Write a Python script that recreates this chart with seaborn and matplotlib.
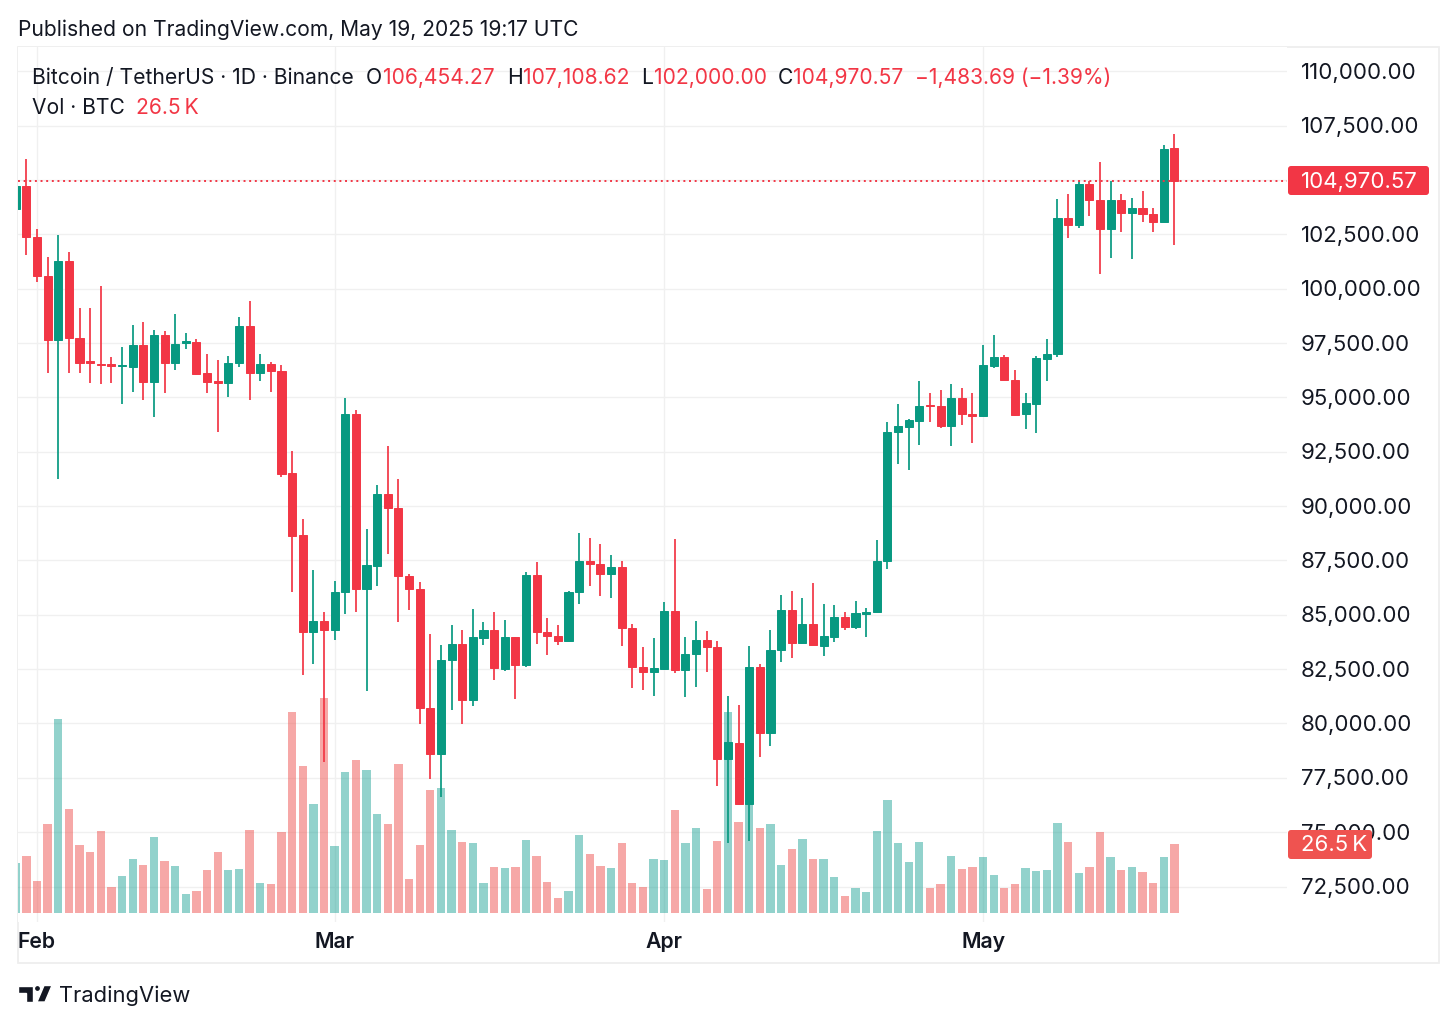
"""BTC/USDT daily candles with volume, TradingView style."""

import matplotlib
matplotlib.use("Agg")
import matplotlib.pyplot as plt
from matplotlib.patches import Circle, FancyBboxPatch, Polygon, Rectangle
from matplotlib.transforms import ScaledTranslation
import numpy as np
import pandas as pd
import seaborn as sns

W, H = 1456, 1026

GREEN = "#089981"
RED = "#F23645"
VOL_GREEN = "#26A69A"
VOL_RED = "#EF5350"
GRID = "#F0F0F0"
TEXT = "#131722"

# prices in thousands of USDT, Jan 30 .. May 19 2025
opens = [
    103.67, 104.72,
    102.38, 100.58, 97.66, 101.29, 97.73, 96.66, 96.55, 96.52, 96.43, 96.41, 97.41, 95.72, 97.87, 96.60,
    97.52, 97.53, 96.11, 95.74, 95.65, 96.60, 98.28, 96.14, 96.52, 96.23, 91.51, 88.66, 84.21, 84.70,
    84.32, 86.03, 94.24, 86.20, 87.26, 90.57, 89.91, 86.77, 86.20, 80.70, 78.58, 82.90, 83.64, 81.06, 83.95, 84.28,
    82.52, 83.98, 82.71, 86.83, 84.21, 84.04, 83.79, 86.05, 87.47, 87.35, 86.89, 87.20, 84.41, 82.61, 82.37,
    82.52, 85.16, 82.48, 83.18, 83.84, 83.50, 78.38, 79.12, 76.30, 82.58, 79.58, 83.40, 85.22, 83.70, 84.56,
    83.58, 83.99, 84.90, 84.44, 85.05, 85.14, 87.46, 93.41, 93.65, 93.93, 94.65, 94.59, 93.70, 94.96, 94.24,
    94.14, 96.46, 96.84, 95.82, 94.22, 94.71, 96.78, 97.00, 103.24, 102.95, 104.80, 104.10, 102.75, 104.07, 103.48,
    103.73, 103.42, 103.07, 106.45,
]
highs = [
    104.72, 105.97,
    102.75, 101.46, 102.47, 101.70, 99.13, 99.10, 100.12, 96.84, 97.30, 98.32, 98.45, 98.10, 98.07, 98.82,
    97.96, 97.67, 97.01, 96.72, 96.89, 98.68, 99.45, 96.98, 96.63, 96.47, 92.53, 89.39, 87.06, 85.11,
    86.54, 94.96, 94.42, 88.93, 90.97, 92.76, 91.26, 86.88, 86.49, 84.10, 83.60, 84.51, 84.30, 85.28, 84.65, 85.11,
    84.76, 83.99, 86.98, 87.44, 84.84, 84.52, 86.08, 88.75, 88.55, 88.26, 87.74, 87.47, 84.56, 83.53, 83.93,
    85.57, 88.49, 83.98, 84.70, 84.25, 83.81, 81.26, 80.85, 83.56, 82.74, 84.30, 85.90, 86.09, 85.77, 86.45,
    85.48, 85.44, 85.11, 85.63, 85.30, 88.44, 93.85, 94.68, 93.99, 95.74, 95.19, 95.33, 95.62, 95.42, 95.22,
    97.43, 97.87, 96.95, 96.28, 95.19, 96.89, 97.70, 104.11, 104.34, 104.95, 104.95, 105.81, 104.95, 104.34, 104.17,
    104.51, 103.70, 106.63, 107.11,
]
lows = [
    103.67, 101.55,
    100.29, 96.14, 91.25, 96.14, 96.14, 95.68, 95.60, 95.68, 94.71, 95.23, 94.87, 94.10, 95.19, 96.25,
    97.24, 96.03, 95.19, 93.41, 95.02, 96.41, 94.88, 95.77, 95.23, 91.32, 86.03, 82.25, 82.74, 78.24,
    83.84, 85.05, 85.14, 81.51, 86.31, 87.81, 84.68, 85.20, 79.99, 77.46, 76.60, 80.60, 79.96, 80.82, 83.63, 82.00,
    82.43, 81.14, 82.58, 83.66, 83.17, 83.63, 83.79, 85.51, 86.31, 85.86, 85.79, 83.58, 81.63, 81.54, 81.26,
    82.46, 82.34, 81.22, 81.66, 82.37, 77.14, 74.49, 76.25, 74.61, 78.46, 78.98, 82.81, 83.01, 83.67, 83.60,
    83.10, 83.75, 84.32, 84.36, 83.96, 85.14, 87.09, 91.94, 91.66, 92.83, 93.85, 93.61, 92.78, 93.73, 92.92,
    94.14, 96.34, 95.79, 94.16, 93.53, 93.36, 95.77, 96.87, 102.32, 102.81, 103.36, 100.69, 101.43, 102.62, 101.38,
    103.08, 102.62, 103.07, 102.00,
]
closes = [
    104.72, 102.38,
    100.58, 97.66, 101.29, 97.73, 96.60, 96.60, 96.51, 96.46, 96.49, 97.41, 95.72, 97.87, 96.60, 97.46,
    97.58, 96.09, 95.72, 95.65, 96.60, 98.28, 96.14, 96.52, 96.23, 91.49, 88.64, 84.21, 84.70, 84.32,
    86.03, 94.24, 86.20, 87.28, 90.57, 89.91, 86.77, 86.20, 80.70, 78.58, 82.92, 83.64, 81.06, 83.96, 84.28, 82.54,
    83.98, 82.71, 86.83, 84.21, 84.04, 83.79, 86.05, 87.47, 87.34, 86.89, 87.20, 84.41, 82.61, 82.37, 82.54,
    85.16, 82.48, 83.18, 83.84, 83.50, 78.38, 79.13, 76.30, 82.58, 79.58, 83.40, 85.22, 83.72, 84.56, 83.60,
    84.01, 84.90, 84.44, 85.07, 85.14, 87.47, 93.41, 93.67, 93.95, 94.59, 94.59, 93.68, 94.96, 94.24, 94.14,
    96.49, 96.84, 95.82, 94.21, 94.73, 96.81, 97.00, 103.24, 102.93, 104.80, 104.10, 102.75, 104.07, 103.48, 103.73,
    103.42, 103.07, 106.41, 104.97,
]
# volume in thousands of BTC
volumes = [
    19.2, 21.9,
    12.4, 34.3, 74.9, 40.2, 26.2, 23.5, 31.6, 10.1, 14.2, 20.7, 18.6, 29.3, 19.9, 18.2,
    7.2, 8.4, 16.5, 23.5, 16.5, 16.9, 32.0, 11.5, 11.1, 31.2, 77.8, 56.7, 42.2, 83.1,
    25.8, 54.6, 59.0, 55.1, 38.2, 34.3, 57.6, 13.0, 26.2, 47.5, 48.3, 32.0, 27.5, 26.9, 11.5, 17.6,
    17.3, 17.6, 28.1, 21.9, 12.0, 5.6, 8.6, 30.0, 22.7, 18.2, 17.3, 27.1, 11.7, 10.1, 20.7,
    20.4, 39.8, 27.1, 32.7, 9.3, 27.8, 77.8, 35.1, 43.6, 33.0, 34.3, 18.6, 24.8, 28.5, 21.0,
    20.7, 13.8, 6.6, 9.6, 8.0, 31.6, 43.6, 27.2, 19.6, 27.5, 9.4, 11.1, 21.9, 16.9, 17.7,
    21.4, 14.8, 9.7, 11.1, 17.3, 16.1, 16.5, 34.7, 27.5, 15.2, 17.9, 31.2, 21.4, 16.5, 17.9,
    15.8, 11.4, 21.7, 26.5,
]
price_ticks = [72.5, 75, 77.5, 80, 82.5, 85, 87.5, 90, 92.5, 95, 97.5, 100, 102.5, 105, 107.5, 110]
month_labels = ["Feb", "Mar", "Apr", "May"]
month_starts = ["2025-02-01", "2025-03-01", "2025-04-01", "2025-05-01"]
last_close = 104.97


def fx(px):
    return px / W


def fy(py):
    return 1 - py / H


def ftext(px, py, s, color=TEXT, size=15.15, **kw):
    kw.setdefault("va", "center")
    return fig.text(fx(px), fy(py), s, color=color, fontsize=size, **kw)


sns.set_theme(style="white")
plt.rcParams["font.family"] = ["Inter", "DejaVu Sans"]

df = pd.DataFrame({"open": opens, "high": highs, "low": lows, "close": closes, "volume": volumes})
dates = pd.date_range("2025-01-30", periods=len(df))
feb1 = pd.Timestamp("2025-02-01")
df["day"] = (dates - feb1).days
df["side"] = np.where(df["close"] >= df["open"], "up", "down")

fig = plt.figure(figsize=(W / 100, H / 100), dpi=100, facecolor="white")
# chart panel spans y 47..922 and x 18..1287 in image pixels
rect = [fx(18), fy(922), fx(1287 - 18), (922 - 47) / H]
ax = fig.add_axes(rect, zorder=1)
ax_vol = fig.add_axes(rect, zorder=2, facecolor="none")
ax_px = fig.add_axes(rect, zorder=3, facecolor="none")

xlim = (-1.787, 117.59)
ylim = (70.868, 111.118)

# grid + axis labels live on the bottom axes
ax.set_xlim(xlim)
ax.set_ylim(ylim)
ax.set_yticks(price_ticks)
ax.set_yticklabels([f"{t * 1000:,.2f}" for t in price_ticks])
ax.yaxis.tick_right()
ax.tick_params(axis="y", length=0, pad=10, labelsize=16, labelcolor=TEXT)
nudge = ScaledTranslation(0, -1.5 / 100, fig.dpi_scale_trans)
for lab in ax.get_yticklabels():
    lab.set_va("center")
    lab.set_transform(lab.get_transform() + nudge)
ax.set_xticks([(pd.Timestamp(m) - feb1).days for m in month_starts])
ax.set_xticklabels(month_labels, fontweight="semibold")
ax.tick_params(axis="x", length=0, pad=7.5, labelsize=15.3, labelcolor=TEXT)
ax.grid(True, color=GRID, linewidth=1.0)
ax.set_axisbelow(True)
sns.despine(ax=ax, left=True, bottom=True, top=True, right=True)

# volume
sns.barplot(data=df, x="day", y="volume", hue="side", hue_order=["up", "down"],
            palette={"up": VOL_GREEN, "down": VOL_RED}, native_scale=True, dodge=False,
            width=0.78, saturation=1, alpha=0.5, linewidth=0, legend=False, ax=ax_vol)
ax_vol.set_xlim(xlim)
ax_vol.set_ylim(-3.6, 335.4)
ax_vol.axis("off")

# candles
colors = np.where(df["close"] >= df["open"], GREEN, RED)
ax_px.vlines(df["day"], df["low"], df["high"], colors=colors, linewidth=1.25)
ax_px.bar(df["day"], (df["close"] - df["open"]).abs(), bottom=df[["open", "close"]].min(axis=1),
          width=0.76, color=colors, edgecolor=colors, linewidth=0.7)
ax_px.axhline(last_close, color=RED, linewidth=1.4, linestyle=(0, (1, 1.9)))
ax_px.set_xlim(xlim)
ax_px.set_ylim(ylim)
ax_px.axis("off")

# outer frame
fig.add_artist(Rectangle((fx(18), fy(963)), (1438.5 - 18) / W, (963 - 47) / H, transform=fig.transFigure,
                         fill=False, edgecolor="#EEEEEE", linewidth=1.3))


def badge(x0, x1, y0, y1, color):
    tr = fig.dpi_scale_trans
    fig.add_artist(FancyBboxPatch((x0 / 100, (H - y1) / 100), (x1 - x0) / 100, (y1 - y0) / 100,
                                  boxstyle="round,pad=0,rounding_size=0.03", transform=tr,
                                  facecolor=color, edgecolor="none", zorder=5))


badge(1288, 1429, 166, 195, RED)
badge(1288, 1372, 830, 859, VOL_RED)
ftext(1301, 181.5, "104,970.57", color="white", size=16, zorder=6)
ftext(1301, 845, "26.5\u2009K", color="white", size=16, zorder=6)

# header texts
ftext(18, 29.5, "Published on TradingView.com, May 19, 2025 19:17 UTC")
ftext(32, 78, "Bitcoin / TetherUS · 1D · Binance")
ftext(366, 78, "O")
ftext(383, 78, "106,454.27", color=RED)
ftext(507, 78, "H")
ftext(523, 78, "107,108.62", color=RED)
ftext(641, 78, "L")
ftext(654, 78, "102,000.00", color=RED)
ftext(778, 78, "C")
ftext(793, 78, "104,970.57", color=RED)
ftext(915, 78, "−1,483.69 (−1.39%)", color=RED)
ftext(32, 108, "Vol · BTC")
ftext(136, 108, "26.5\u2009K", color=RED)

# TradingView logo
k = fig.transFigure
fig.add_artist(Polygon([(fx(18), fy(985.5)), (fx(33), fy(985.5)), (fx(33), fy(1002)), (fx(26), fy(1002)),
                        (fx(26), fy(992.5)), (fx(18), fy(992.5))], transform=k, facecolor="#131722"))
fig.add_artist(Polygon([(fx(44), fy(985.5)), (fx(52), fy(985.5)), (fx(45), fy(1002)), (fx(37), fy(1002))],
                       transform=k, facecolor="#131722"))
fig.add_artist(Circle((37.5 / 100, (H - 988.5) / 100), 3.1 / 100, transform=fig.dpi_scale_trans,
                      facecolor="#131722"))
ftext(59, 996, "TradingView", size=15.8)

fig.savefig("out.png", dpi=100, facecolor="white")
